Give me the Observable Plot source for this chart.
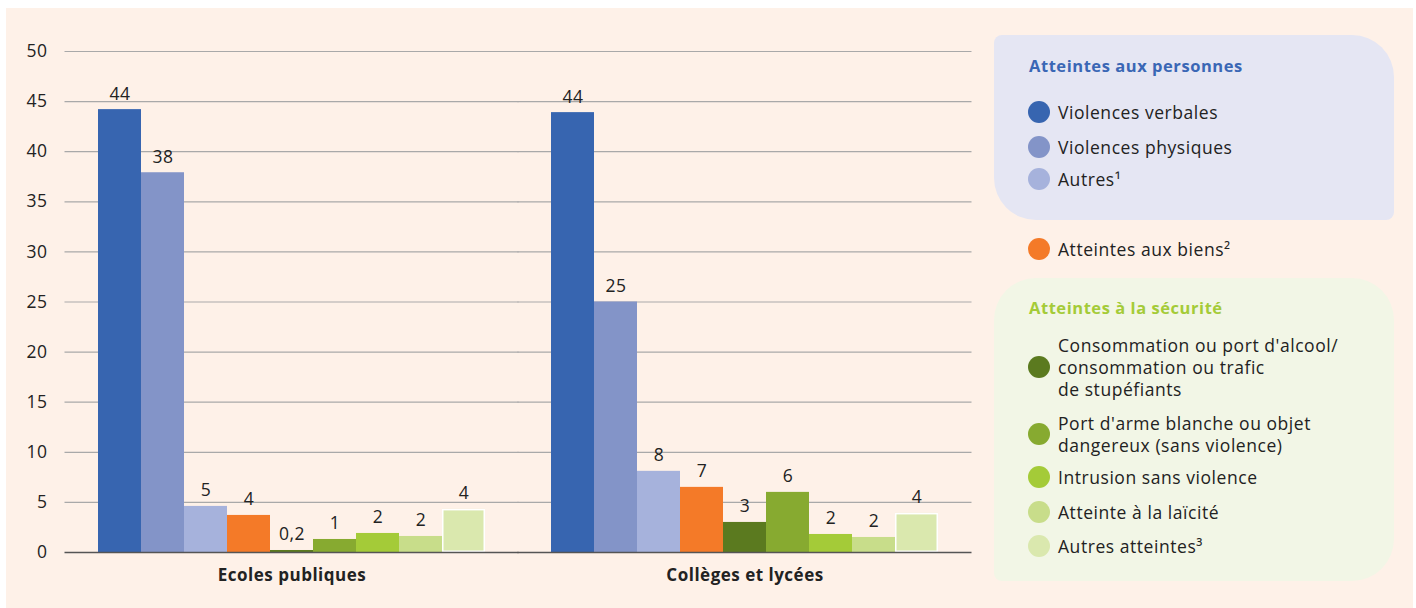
<!DOCTYPE html>
<html>
<head>
<meta charset="utf-8">
<script src="https://cdn.jsdelivr.net/npm/d3@7"></script>
<script src="https://cdn.jsdelivr.net/npm/@observablehq/plot@0.6"></script>
<style>
  html, body { margin: 0; padding: 0; background: #ffffff; }
  body { width: 1416px; height: 608px; position: relative; overflow: hidden; font-family: "Open Sans", "Noto Sans", sans-serif; color: #222; }
  #bg { position: absolute; left: 6px; top: 8px; width: 1407px; height: 600px; background: #FEF1E8; }
  #chart { position: absolute; left: 0; top: 0; }
  #chart svg { background: transparent; overflow: visible; }
  #chart svg text { letter-spacing: 0.5px; }
  .panel { position: absolute; left: 994px; width: 400px; }
  .panel-blue { top: 35px; height: 185px; background: #E5E6F3; border-radius: 8px 42px 8px 42px; }
  .panel-green { top: 278px; height: 303px; background: #F2F6E6; border-radius: 42px 42px 42px 8px; }
  .ptitle { position: absolute; left: 35px; font-weight: 700; font-size: 16.5px; line-height: 20px; letter-spacing: 0.55px; white-space: nowrap; }
  .item { position: absolute; left: 1028px; display: flex; align-items: center; font-size: 17.5px; line-height: 22px; color: #222; letter-spacing: 0.55px; }
  .dot { width: 22px; height: 22px; border-radius: 50%; flex: 0 0 22px; margin-right: 8px; }
  .item span { white-space: pre; }
</style>
</head>
<body>
<div id="bg"></div>
<div id="legend"></div>
<div id="chart"></div>
<script>
// ---- data ----
const groups = ["Ecoles publiques", "Collèges et lycées"];
const series = [
  "Violences verbales",
  "Violences physiques",
  "Autres¹",
  "Atteintes aux biens²",
  "Consommation ou port d'alcool/\nconsommation ou trafic\nde stupéfiants",
  "Port d'arme blanche ou objet\ndangereux (sans violence)",
  "Intrusion sans violence",
  "Atteinte à la laïcité",
  "Autres atteintes³"
];
const colors = ["#3765B0", "#8394C8", "#A6B2DC", "#F47A28", "#5B7A1F", "#87AA30", "#A4CB38", "#C8DD8A", "#DAE8AE"];
const ecolesValues = [44.2, 37.9, 4.6, 3.7, 0.2, 1.3, 1.9, 1.6, 4.3];
const collegesValues = [43.9, 25.0, 8.1, 6.5, 3.0, 6.0, 1.8, 1.5, 3.9];
const ecolesLabels = ["44", "38", "5", "4", "0,2", "1", "2", "2", "4"];
const collegesLabels = ["44", "25", "8", "7", "3", "6", "2", "2", "4"];
const yTicks = [0, 5, 10, 15, 20, 25, 30, 35, 40, 45, 50];
const legendGroups = [
  {title: "Atteintes aux personnes", titleColor: "#3A67B5", items: [0, 1, 2]},
  {title: null, items: [3]},
  {title: "Atteintes à la sécurité", titleColor: "#A4CB38", items: [4, 5, 6, 7, 8]}
];

// ---- table ----
const table = [];
series.forEach((s, i) => {
  table.push({group: groups[0], series: s, value: ecolesValues[i], label: ecolesLabels[i]});
  table.push({group: groups[1], series: s, value: collegesValues[i], label: collegesLabels[i]});
});
const lastSeries = series[series.length - 1];

const chart = Plot.plot({
  width: 985,
  height: 608,
  marginLeft: 64,
  marginRight: 13,
  marginTop: 51,
  marginBottom: 56,
  style: {fontFamily: "'Open Sans', 'Noto Sans', sans-serif", fontSize: "17px", color: "#222", background: "transparent"},
  fx: {domain: groups, paddingInner: 0.141, paddingOuter: 0.0725, label: null},
  x: {domain: series, padding: 0, axis: null},
  y: {domain: [0, 50], axis: null},
  color: {domain: series, range: colors},
  marks: [
    Plot.ruleY(yTicks.filter(d => d > 0), {stroke: "#a9a9a9", strokeWidth: 1.2, insetLeft: -32.5, insetRight: -32.5}),
    Plot.axisY(yTicks, {anchor: "left", label: null, tickSize: 0, tickPadding: 50, fontSize: 17.5, fill: "#222"}),
    Plot.barY(table, {fx: "group", x: "series", y: "value", fill: "series"}),
    Plot.barY(table.filter(d => d.series === lastSeries), {fx: "group", x: "series", y: "value", fill: "none", stroke: "#ffffff", strokeWidth: 1.5, inset: 0.75}),
    Plot.ruleY([0], {stroke: "#555555", strokeWidth: 1.5, insetLeft: -32.5, insetRight: -32.5}),
    Plot.text(table, {fx: "group", x: "series", y: "value", text: "label", lineAnchor: "bottom", dy: -10, fontSize: 17.5, fill: "#222"}),
    Plot.axisFx({anchor: "bottom", label: null, tickSize: 0, tickPadding: 16, fontSize: 17, fontWeight: "bold", fill: "#222"})
  ]
});
document.getElementById("chart").appendChild(chart);

// ---- legend ----
const legend = document.getElementById("legend");
const blue = document.createElement("div");
blue.className = "panel panel-blue";
legend.appendChild(blue);
const green = document.createElement("div");
green.className = "panel panel-green";
legend.appendChild(green);

function addTitle(panel, text, color, centerY, panelTop) {
  const t = document.createElement("div");
  t.className = "ptitle";
  t.textContent = text;
  t.style.color = color;
  t.style.top = (centerY - panelTop - 10) + "px";
  panel.appendChild(t);
}
addTitle(blue, legendGroups[0].title, legendGroups[0].titleColor, 66, 35);
addTitle(green, legendGroups[2].title, legendGroups[2].titleColor, 308, 278);

const itemCenters = [112, 147, 179, 249, 367, 434, 477, 512, 546];
series.forEach((s, i) => {
  const lines = s.split("\n").length;
  const it = document.createElement("div");
  it.className = "item";
  it.style.top = (itemCenters[i] - lines * 11) + "px";
  const dot = document.createElement("div");
  dot.className = "dot";
  dot.style.background = colors[i];
  const sp = document.createElement("span");
  sp.textContent = s;
  it.appendChild(dot);
  it.appendChild(sp);
  legend.appendChild(it);
});
</script>
</body>
</html>
